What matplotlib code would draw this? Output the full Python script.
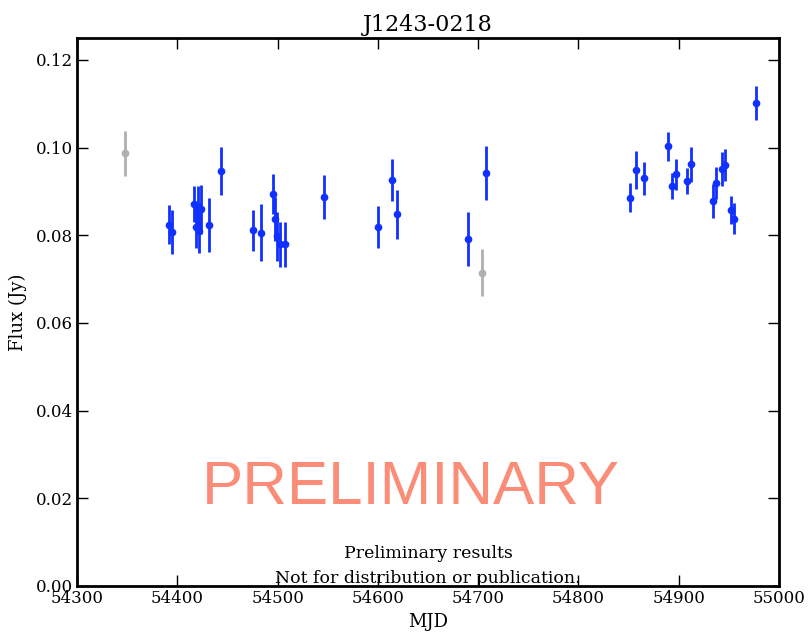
import matplotlib

matplotlib.use("Agg")
import matplotlib.pyplot as plt
from matplotlib.ticker import FormatStrFormatter, MultipleLocator

# good epochs (blue)
mjd = [54392, 54395, 54417, 54419, 54421, 54422, 54424, 54432, 54444,
       54475, 54483, 54495, 54497, 54499, 54502, 54507, 54546,
       54600, 54614, 54619, 54690, 54708,
       54851, 54857, 54865, 54889, 54893, 54897, 54908, 54912,
       54934, 54937, 54943, 54946, 54952, 54955, 54977]
flux = [0.0824, 0.0808, 0.0872, 0.0820, 0.0867, 0.0810, 0.0859, 0.0824, 0.0947,
        0.0811, 0.0806, 0.0894, 0.0837, 0.0798, 0.0779, 0.0779, 0.0887,
        0.0819, 0.0926, 0.0848, 0.0791, 0.0942,
        0.0886, 0.0949, 0.0930, 0.1003, 0.0913, 0.0939, 0.0924, 0.0962,
        0.0878, 0.0919, 0.0952, 0.0960, 0.0858, 0.0838, 0.1102]
err = [0.0045, 0.0050, 0.0041, 0.0050, 0.0045, 0.0050, 0.0056, 0.0061, 0.0055,
       0.0046, 0.0065, 0.0045, 0.0051, 0.0056, 0.0051, 0.0051, 0.0051,
       0.0048, 0.0048, 0.0056, 0.0062, 0.0061,
       0.0033, 0.0044, 0.0038, 0.0033, 0.0030, 0.0035, 0.0030, 0.0040,
       0.0039, 0.0036, 0.0039, 0.0036, 0.0032, 0.0036, 0.0038]

# flagged epochs (grey)
mjd_bad = [54348, 54704]
flux_bad = [0.0987, 0.0715]
err_bad = [0.0051, 0.0053]

plt.rcParams["font.family"] = ["DejaVu Serif"]

fig = plt.figure(figsize=(8.1, 6.34), dpi=100)
ax = fig.add_axes([77 / 810, 48 / 634, 702 / 810, 548 / 634])

ax.errorbar(mjd_bad, flux_bad, yerr=err_bad, fmt="o", color="#b0b0b0",
            ecolor="#b0b0b0", elinewidth=2, markersize=4.5, capsize=0,
            markeredgecolor="#b0b0b0")
ax.errorbar(mjd, flux, yerr=err, fmt="o", color="#1030ff", ecolor="#1030ff",
            elinewidth=2, markersize=4.5, capsize=0, markeredgecolor="#1030ff")

ax.set_xlim(54300, 55000)
ax.set_ylim(0, 0.125)
ax.xaxis.set_major_locator(MultipleLocator(100))
ax.yaxis.set_major_locator(MultipleLocator(0.02))
ax.yaxis.set_major_formatter(FormatStrFormatter("%.2f"))
ax.tick_params(direction="in", top=True, right=True, length=8, width=1,
               labelsize=12, pad=3)
for spine in ax.spines.values():
    spine.set_linewidth(2)

ax.set_title("J1243-0218", fontsize=16, pad=5)
ax.set_xlabel("MJD", fontsize=13, labelpad=4)
ax.set_ylabel("Flux (Jy)", fontsize=13, labelpad=6)

ax.text(0.475, 0.178, "PRELIMINARY", transform=ax.transAxes, ha="center",
        va="center", fontsize=44.5, color="#fa8c78", family="Liberation Sans")
ax.text(0.50, 0.060, "Preliminary results", transform=ax.transAxes,
        ha="center", va="center", fontsize=12.5)
ax.text(0.50, 0.014, "Not for distribution or publication.",
        transform=ax.transAxes, ha="center", va="center", fontsize=12.5)

fig.savefig("out.png", dpi=100)
